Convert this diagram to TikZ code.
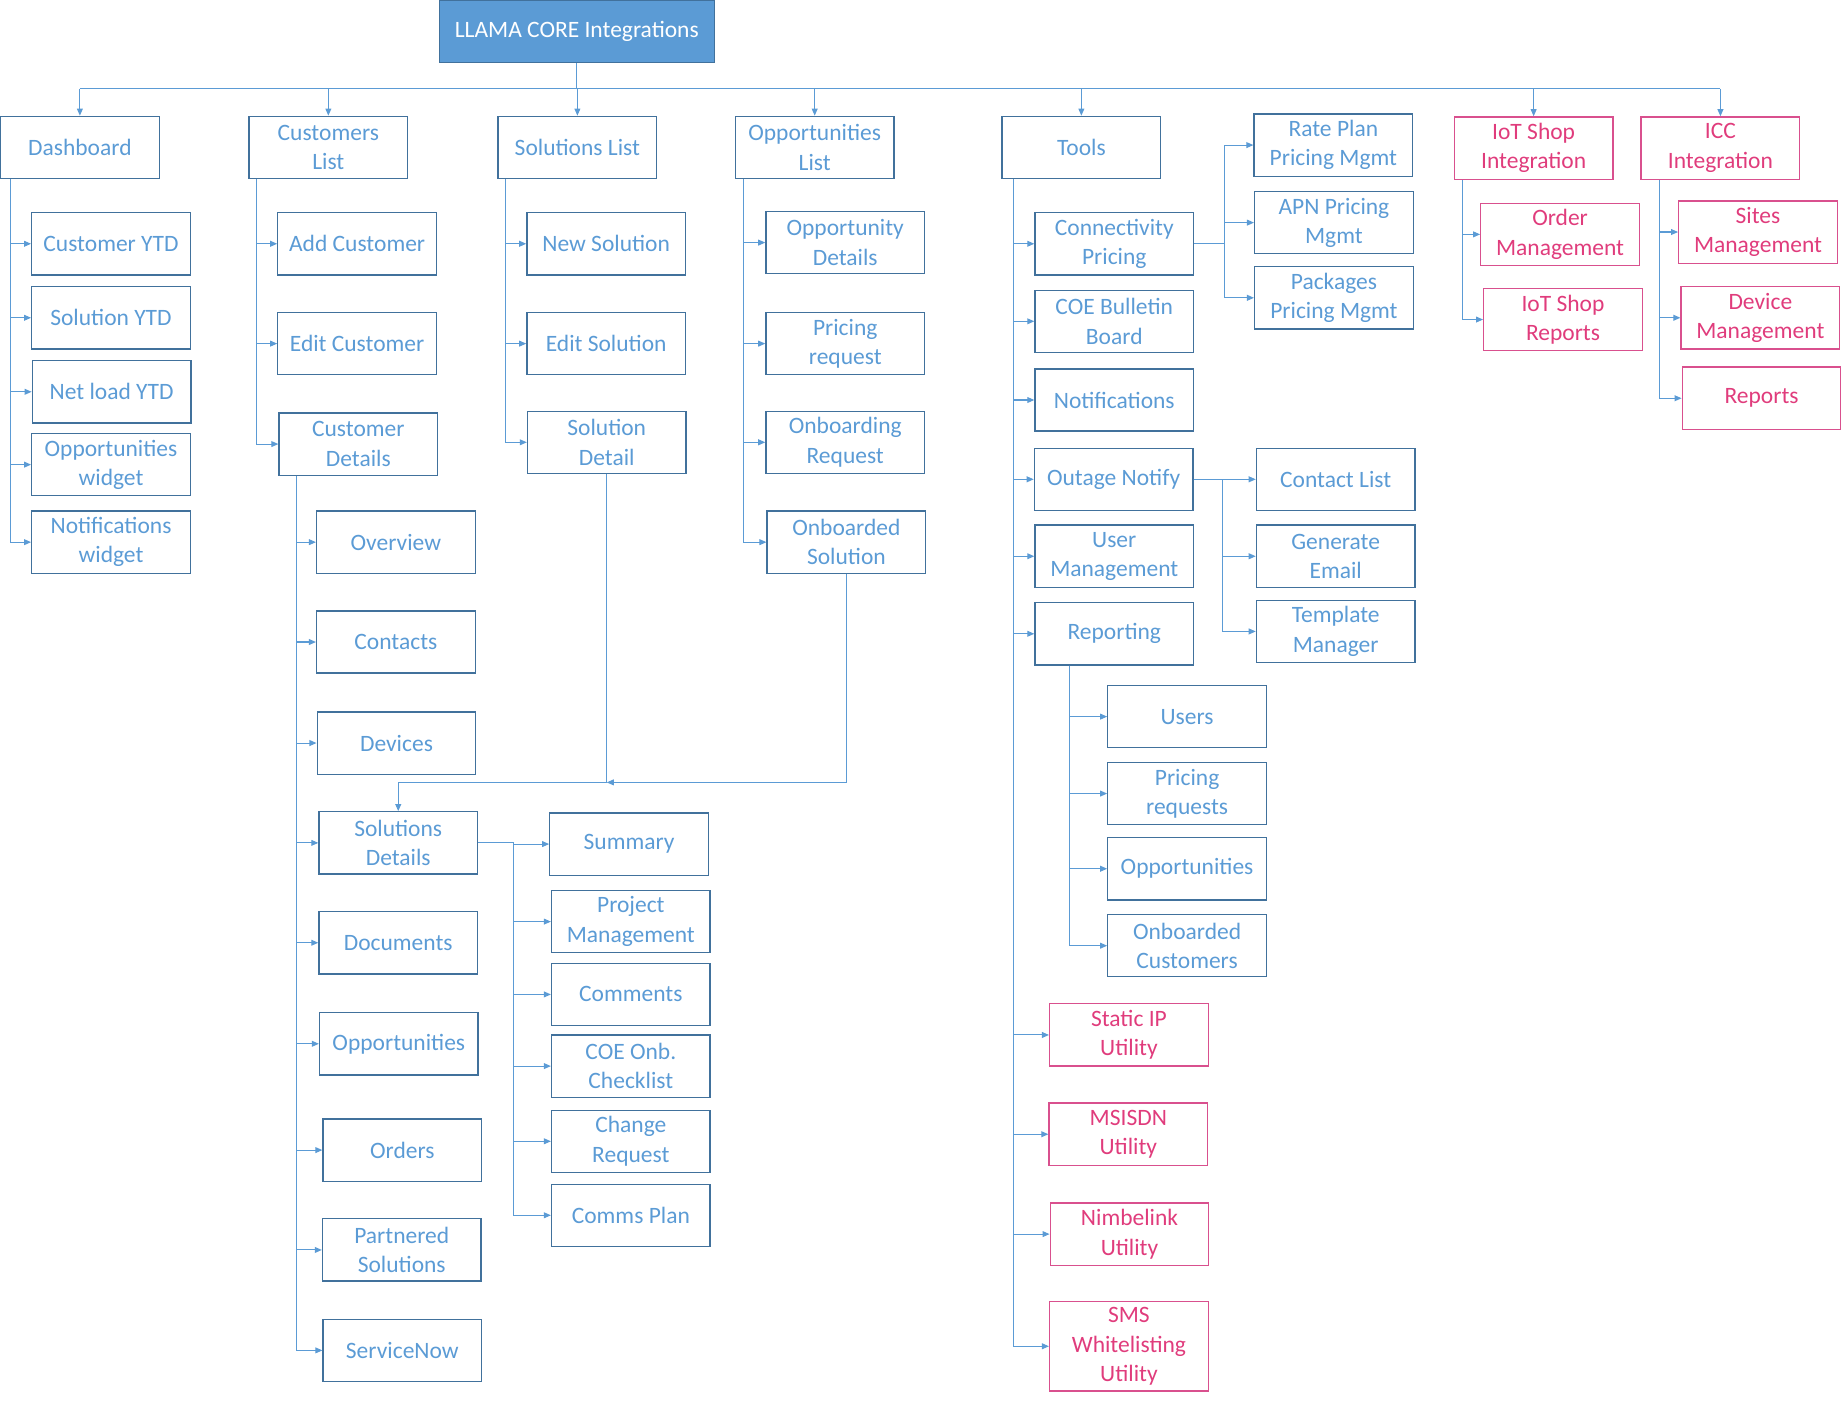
\documentclass[tikz,border=0pt]{standalone}
\usepackage{fontspec}
\setmainfont{Carlito}
\usetikzlibrary{arrows.meta,calc}
\definecolor{boxc}{HTML}{41719C}
\definecolor{txtc}{HTML}{5B9BD5}
\definecolor{lnc}{HTML}{5B9BD5}
\definecolor{pkt}{HTML}{E03C7C}
\definecolor{pkb}{HTML}{D9508E}
\newcommand\fsz{\fontsize{20}{25}\selectfont}
\tikzset{
  bx/.style={draw=boxc, line width=1.1pt, text=txtc, minimum width=135pt, minimum height=53pt, align=center, inner sep=0pt, font=\fsz},
  pk/.style={bx, draw=pkb, text=pkt},
  topbox/.style={bx, fill=txtc, text=white, minimum width=234pt},
  ln/.style={draw=lnc, line width=0.9pt},
  ar/.style={ln, -{Triangle[length=6pt,width=5pt]}},
}
\begin{document}
\begin{tikzpicture}[x=1pt,y=-1pt]
\useasboundingbox (0,0) rectangle (1568,1195);
% top
\node[topbox] (top) at (491,26.5) {LLAMA CORE Integrations};
% level 1
\node[bx] (dash) at (68,125.5) {Dashboard};
\node[bx] (custl) at (279.5,125.5) {Customers\\List};
\node[bx] (soll) at (491.5,125.5) {Solutions List};
\node[bx] (oppl) at (693.5,125.5) {Opportunities\\List};
\node[bx] (tools) at (920.5,125.5) {Tools};
\node[pk] (iot) at (1305.5,126) {IoT Shop\\Integration};
\node[pk] (icc) at (1464.5,126) {ICC\\Integration};
% dashboard children
\node[bx] (cytd) at (94.5,207.5) {Customer YTD};
\node[bx] (sytd) at (94.5,270.5) {Solution YTD};
\node[bx] (nytd) at (95,333.5) {Net load YTD};
\node[bx] (owid) at (94.5,395.5) {Opportunities\\widget};
\node[bx] (nwid) at (94.5,461.5) {Notifications\\widget};
% customers list children
\node[bx] (addc) at (304,207.5) {Add Customer};
\node[bx] (editc) at (304,292.5) {Edit Customer};
\node[bx] (custd) at (305,378) {Customer\\Details};
% customer details children
\node[bx] (overview) at (337,461.5) {Overview};
\node[bx] (contacts) at (337,546.5) {Contacts};
\node[bx] (devices) at (337.5,632.5) {Devices};
\node[bx] (sold) at (339,717.5) {Solutions\\Details};
\node[bx] (docs) at (339,802.5) {Documents};
\node[bx] (opps2) at (339.5,888.5) {Opportunities};
\node[bx] (orders) at (342.5,979) {Orders};
\node[bx] (partner) at (342,1064) {Partnered\\Solutions};
\node[bx] (snow) at (342.5,1149.5) {ServiceNow};
% solutions list children
\node[bx] (news) at (516,207.5) {New Solution};
\node[bx] (edits) at (516,292.5) {Edit Solution};
\node[bx] (sdet) at (516.5,376.5) {Solution\\Detail};
% opportunities list children
\node[bx] (oppd) at (719.5,206.5) {Opportunity\\Details};
\node[bx] (pricr) at (719.5,292.5) {Pricing\\request};
\node[bx] (onbr) at (719.5,376.5) {Onboarding\\Request};
\node[bx] (onbs) at (720.5,461.5) {Onboarded\\Solution};
% solutions details children
\node[bx] (summary) at (535.5,718.5) {Summary};
\node[bx] (projm) at (537,784.5) {Project\\Management};
\node[bx] (comm) at (537,846.5) {Comments};
\node[bx] (coe) at (537,907.5) {COE Onb.\\Checklist};
\node[bx] (chreq) at (537,971.5) {Change\\Request};
\node[bx] (comms) at (537,1034.5) {Comms Plan};
% tools children
\node[bx] (connp) at (948.5,207.5) {Connectivity\\Pricing};
\node[bx] (coeb) at (948.5,273.5) {COE Bulletin\\Board};
\node[bx] (notif) at (948.5,340.5) {Notifications};
\node[bx] (outage) at (948,408) {Outage Notify};
\node[bx] (userm) at (948.5,473.5) {User\\Management};
\node[bx] (report) at (948.5,539.5) {Reporting};
\node[pk] (sip) at (961,881) {Static IP\\Utility};
\node[pk] (msisdn) at (960.5,965.5) {MSISDN\\Utility};
\node[pk] (nimb) at (961.5,1050.5) {Nimbelink\\Utility};
\node[pk, minimum height=76pt] (sms) at (961,1146) {SMS\\Whitelisting\\Utility};
% connectivity children
\node[bx] (rate) at (1135,123.5) {Rate Plan\\Pricing Mgmt};
\node[bx] (apn) at (1135.5,189.5) {APN Pricing\\Mgmt};
\node[bx] (pack) at (1135.5,253.5) {Packages\\Pricing Mgmt};
% outage children
\node[bx] (contl) at (1137,408) {Contact List};
\node[bx] (gene) at (1137,473.5) {Generate\\Email};
\node[bx] (templ) at (1137,537.5) {Template\\Manager};
% reporting children
\node[bx] (users) at (1010.5,610) {Users};
\node[bx] (pricreq) at (1010.5,675.5) {Pricing\\requests};
\node[bx] (opps3) at (1010.5,739.5) {Opportunities};
\node[bx] (onbc) at (1010.5,805) {Onboarded\\Customers};
% iot children
\node[pk] (ordm) at (1328,199.5) {Order\\Management};
\node[pk] (iotr) at (1330.5,272) {IoT Shop\\Reports};
% icc children
\node[pk] (sites) at (1496.5,197.5) {Sites\\Management};
\node[pk] (devm) at (1498.5,270.5) {Device\\Management};
\node[pk] (reps) at (1499.5,339) {Reports};

% main bus
\coordinate (bus) at (491,75.5);
\draw[ln] (top.south) -- (bus);
\draw[ln] (bus -| dash.north) -- (bus -| icc.north);
\foreach \n in {dash,custl,soll,oppl,tools,iot,icc}
  \draw[ar] (bus -| \n.north) -- (\n.north);

% trunks
\coordinate (tdash) at (9,0);
\foreach \n in {cytd,sytd,nytd,owid,nwid}
  \draw[ar] (dash.south -| tdash) |- (\n.west);
\coordinate (tcustl) at (218,0);
\foreach \n in {addc,editc,custd}
  \draw[ar] (custl.south -| tcustl) |- (\n.west);
\coordinate (tcustd) at (252,0);
\foreach \n in {overview,contacts,devices,sold,docs,opps2,orders,partner,snow}
  \draw[ar] (custd.south -| tcustd) |- (\n.west);
\coordinate (tsoll) at (430,0);
\foreach \n in {news,edits,sdet}
  \draw[ar] (soll.south -| tsoll) |- (\n.west);
\coordinate (toppl) at (633,0);
\foreach \n in {oppd,pricr,onbr,onbs}
  \draw[ar] (oppl.south -| toppl) |- (\n.west);
\coordinate (tsold) at (437,0);
\foreach \n in {summary,projm,comm,coe,chreq,comms}
  \draw[ar] (sold.east) -- (sold.east -| tsold) |- (\n.west);
\coordinate (ttools) at (863,0);
\foreach \n in {connp,coeb,notif,outage,userm,report,sip,msisdn,nimb,sms}
  \draw[ar] (tools.south -| ttools) |- (\n.west);
\coordinate (tconn) at (1042,0);
\foreach \n in {rate,apn,pack}
  \draw[ar] (connp.east) -- (connp.east -| tconn) |- (\n.west);
\coordinate (tout) at (1041,0);
\foreach \n in {contl,gene,templ}
  \draw[ar] (outage.east) -- (outage.east -| tout) |- (\n.west);
\coordinate (trep) at (910,0);
\foreach \n in {users,pricreq,opps3,onbc}
  \draw[ar] (report.south -| trep) |- (\n.west);
\coordinate (tiot) at (1245,0);
\foreach \n in {ordm,iotr}
  \draw[ar] (iot.south -| tiot) |- (\n.west);
\coordinate (ticc) at (1413,0);
\foreach \n in {sites,devm,reps}
  \draw[ar] (icc.south -| ticc) |- (\n.west);

% solution detail / onboarded solution to solutions details
\coordinate (jn) at (0,666);
\draw[ar] (sdet.south) -- (sdet.south |- jn) -| (sold.north);
\draw[ar] (onbs.south) |- (sdet.south |- jn);
\end{tikzpicture}
\end{document}
